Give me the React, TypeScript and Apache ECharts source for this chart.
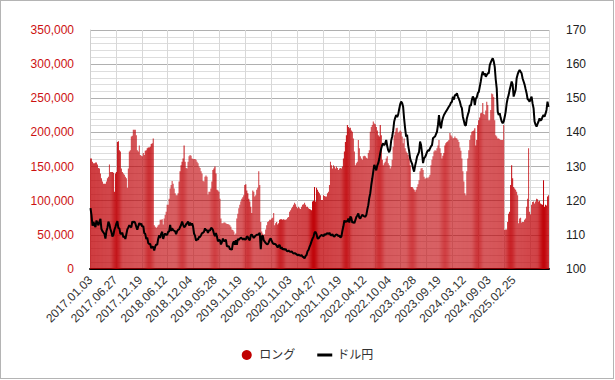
import React, { useEffect, useRef } from "react";
import * as echarts from "echarts";

// ---- Long positions (thousands), one value per week, starting 2017.01.03 ----
const long2017 = [
  162, 162, 157, 155, 155, 156, 156, 153, 148, 147,
  140, 133, 128, 125, 125, 125, 128, 133, 135, 153,
  142, 142, 142, 141, 113, 140, 142, 186, 187, 174,
  172, 147, 142, 140, 138, 135, 133, 119, 147, 172,
  174, 194, 195, 204, 204, 204, 196, 174, 172, 181,
  167, 166,
];
const long2018 = [
  165, 170, 167, 173, 174, 177, 178, 178, 179, 183,
  184, 191, 64, 62, 60, 62, 64, 65, 72, 72,
  73, 65, 74, 79, 84, 94, 94, 103, 118, 123,
  129, 125, 118, 111, 108, 108, 111, 128, 143, 152,
  157, 162, 181, 157, 148, 147, 157, 165, 167, 166,
  162, 161,
];
const long2019 = [
  161, 161, 160, 157, 155, 150, 148, 143, 140, 129,
  128, 135, 137, 135, 109, 113, 113, 118, 128, 145,
  147, 150, 140, 116, 115, 113, 103, 74, 67, 67,
  68, 68, 67, 66, 66, 65, 64, 62, 58, 57,
  55, 50, 52, 74, 81, 89, 94, 99, 103, 105,
  108, 123,
];
const long2020 = [
  124, 115, 111, 103, 99, 91, 82, 115, 113, 106,
  108, 116, 119, 143, 123, 69, 55, 52, 50, 51,
  58, 64, 69, 70, 72, 72, 74, 75, 82, 64,
  67, 69, 65, 67, 72, 73, 73, 72, 73, 72,
  72, 73, 75, 76, 84, 86, 89, 91, 94, 97,
  95, 91,
];
const long2021 = [
  89, 91, 89, 88, 91, 94, 95, 97, 94, 91,
  91, 89, 88, 87, 86, 99, 100, 120, 99, 119,
  116, 113, 111, 108, 101, 101, 108, 107, 106, 106,
  111, 113, 123, 157, 152, 147, 152, 150, 147, 150,
  148, 145, 147, 148, 147, 150, 162, 172, 186, 196,
  211, 208,
];
const long2022 = [
  206, 207, 203, 201, 191, 172, 152, 155, 157, 189,
  177, 165, 162, 160, 165, 166, 165, 163, 162, 170,
  174, 201, 208, 211, 216, 213, 212, 208, 203, 196,
  194, 211, 196, 160, 152, 155, 157, 162, 165, 155,
  152, 147, 150, 160, 179, 196, 201, 206, 207, 199,
  201, 203,
];
const long2023 = [
  201, 194, 184, 191, 177, 172, 170, 167, 162, 152,
  120, 120, 118, 116, 113, 116, 120, 124, 130, 143,
  147, 148, 145, 135, 132, 133, 134, 133, 135, 138,
  152, 160, 165, 172, 174, 173, 177, 181, 189, 177,
  170, 162, 166, 170, 181, 184, 186, 187, 189, 199,
  196, 194,
];
const long2024 = [
  191, 192, 194, 192, 191, 189, 186, 178, 173, 162,
  143, 128, 111, 108, 143, 162, 174, 189, 196, 201,
  202, 203, 206, 181, 189, 211, 218, 222, 228, 229,
  243, 227, 226, 232, 245, 240, 218, 218, 233, 257,
  256, 252, 218, 196, 194, 191, 191, 190, 189, 189,
  189, 211,
];
const long2025 = [
  57, 58, 58, 69, 81, 84, 123, 152, 133, 120,
  118, 116, 113, 108, 67, 74, 75, 68, 69, 69,
  72, 74, 91, 103, 177, 84, 80, 94, 98, 99,
  96, 99, 103, 102, 99, 100, 96, 95, 94, 130,
  91, 94, 93, 106, 108,
];

// ---- USD/JPY ----
const usd2017 = [
  117.8, 115.8, 112.7, 113.8, 112.8, 112.3, 114.2, 113.5, 112.8, 113.9,
  114.7, 111.7, 111.1, 110.7, 110.3, 108.9, 111.1, 112.1, 113.9, 113.1,
  111.7, 110.8, 109.5, 110.0, 111.5, 112.3, 113.3, 114.0, 112.0, 111.9,
  110.3, 110.3, 110.6, 109.3, 109.6, 108.8, 110.2, 111.6, 112.2, 112.8,
  112.4, 112.2, 113.9, 113.6, 113.9, 113.4, 112.4, 111.5, 112.5, 113.5,
  112.9, 113.3,
];
const usd2018 = [
  112.4, 112.6, 110.5, 110.3, 108.8, 109.2, 107.6, 107.3, 107.3, 106.1,
  106.6, 106.4, 105.4, 106.6, 107.2, 107.1, 108.8, 109.9, 109.1, 110.3,
  110.9, 108.8, 109.8, 110.4, 110.0, 110.0, 110.9, 111.0, 112.9, 111.2,
  111.9, 111.4, 111.2, 111.0, 110.2, 111.1, 111.5, 111.6, 112.3, 112.9,
  113.9, 113.0, 112.3, 112.4, 113.1, 113.4, 113.9, 112.7, 113.6, 112.8,
  113.4, 112.5,
];
const usd2019 = [
  110.4, 109.7, 108.3, 108.7, 108.6, 109.4, 109.4, 109.9, 110.5, 110.6,
  110.9, 111.9, 111.3, 111.4, 110.6, 111.4, 111.2, 112.0, 111.9, 111.4,
  110.3, 109.6, 110.5, 109.5, 108.1, 108.5, 108.4, 107.2, 107.9, 108.9,
  108.2, 108.2, 108.6, 106.6, 106.7, 106.6, 105.8, 105.9, 105.6, 107.5,
  108.1, 107.1, 108.4, 107.1, 108.8, 108.5, 108.9, 109.2, 109.0, 108.6,
  109.0, 108.6,
];
const usd2020 = [
  108.7, 109.5, 109.4, 108.7, 108.4, 109.9, 110.1, 109.6, 109.1, 109.5,
  109.8, 110.0, 110.0, 110.2, 110.6, 105.8, 109.5, 109.8, 108.4, 108.0,
  107.6, 107.3, 107.2, 107.8, 108.6, 109.0, 108.2, 107.6, 107.3, 107.4,
  107.2, 106.8, 106.3, 106.9, 107.0, 105.9, 106.4, 105.7, 106.0, 105.6,
  105.9, 105.3, 105.2, 105.4, 105.1, 105.0, 105.2, 104.8, 104.5, 104.7,
  104.5, 104.3,
];
const usd2021 = [
  104.0, 104.2, 104.0, 103.9, 104.1, 103.6, 103.5, 103.1, 103.8, 104.1,
  105.2, 105.6, 106.5, 107.2, 108.1, 108.9, 109.5, 110.6, 110.9, 110.2,
  109.0, 108.9, 109.4, 109.7, 110.0, 109.8, 109.6, 110.2, 110.0, 110.3,
  110.5, 110.2, 110.6, 110.0, 109.8, 110.2, 109.7, 109.5, 109.9, 110.1,
  110.0, 109.6, 109.8, 109.2, 109.5, 111.2, 112.5, 114.2, 113.8, 114.0,
  113.9, 114.8,
];
const usd2022 = [
  113.6, 115.4, 114.9, 113.5, 113.8, 113.4, 114.3, 115.2, 115.7, 116.3,
  115.0, 114.8, 115.4, 115.9, 115.6, 115.4, 115.3, 115.8, 117.4, 118.7,
  120.8, 122.2, 124.6, 126.5, 128.5, 130.5, 129.8, 128.9, 130.3, 131.0,
  132.2, 133.9, 135.3, 136.3, 136.8, 136.2, 136.8, 137.8, 136.0, 134.8,
  134.2, 135.0, 137.6, 138.8, 140.6, 143.2, 144.3, 145.1, 144.5, 145.2,
  146.8, 148.2,
];
const usd2023 = [
  149.0, 148.6, 147.5, 144.0, 141.2, 138.8, 139.3, 136.3, 134.6, 132.4,
  131.5, 130.8, 129.5, 128.5, 130.2, 131.5, 132.9, 133.6, 134.3, 137.3,
  136.3, 133.9, 131.0, 132.4, 132.8, 133.4, 134.3, 134.8, 134.6, 135.3,
  135.9, 136.3, 138.3, 138.6, 138.8, 139.5, 140.2, 142.2, 145.1, 142.2,
  141.2, 143.2, 144.3, 145.1, 145.6, 146.1, 146.6, 147.1, 147.6, 148.0,
  148.7, 149.0,
];
const usd2024 = [
  150.5, 149.6, 151.0, 150.9, 151.5, 150.5, 149.8, 149.0, 147.8, 147.1,
  144.6, 143.4, 142.2, 142.0, 144.1, 145.2, 146.1, 148.0, 147.8, 149.5,
  150.5, 150.0, 148.0, 149.9, 150.3, 151.5, 151.9, 153.4, 155.0, 156.8,
  157.8, 156.8, 157.3, 156.3, 156.8, 157.3, 157.3, 159.7, 160.5, 161.2,
  161.7, 160.8, 159.2, 155.5, 152.9, 146.1, 145.1, 145.6, 144.2, 143.2,
  142.7, 143.2,
];
const usd2025 = [
  144.5, 146.1, 148.5, 150.0, 151.0, 152.5, 153.7, 154.9, 154.0, 150.5,
  151.5, 152.5, 155.9, 157.0, 157.8, 158.3, 157.8, 157.3, 155.8, 154.9,
  154.0, 152.7, 151.5, 149.8, 149.5, 149.0, 149.8, 150.5, 148.5, 147.1,
  143.2, 142.3, 141.7, 142.5, 143.2, 144.1, 143.5, 143.7, 144.6, 145.1,
  144.6, 145.5, 146.6, 149.0, 147.5,
];

const longValues = [
  ...long2017, ...long2018, ...long2019, ...long2020, ...long2021,
  ...long2022, ...long2023, ...long2024, ...long2025,
];
const usdValues = [
  ...usd2017, ...usd2018, ...usd2019, ...usd2020, ...usd2021,
  ...usd2022, ...usd2023, ...usd2024, ...usd2025,
];

// weekly category dates (every Tuesday from 2017.01.03)
const firstDate = Date.UTC(2017, 0, 3);
const pad = (n: number) => (n < 10 ? "0" + n : "" + n);
const dates: string[] = longValues.map((_, i) => {
  const d = new Date(firstDate + i * 7 * 86400000);
  return `${d.getUTCFullYear()}.${pad(d.getUTCMonth() + 1)}.${pad(d.getUTCDate())}`;
});
const LAST_LABEL = "2025.02.25";
const lastLabelIndex = dates.indexOf(LAST_LABEL);

const FONT = "'Liberation Sans', Arial, 'Noto Sans CJK JP', sans-serif";

function stripeColor(i: number) {
  const period = 33;
  const d = (((i - 26) % period) + period) % period;
  const dist = Math.min(d, period - d);
  const t = Math.max(0, 1 - dist / 7);
  const a = 0.77 + 0.23 * t * t * (3 - 2 * t);
  return `rgba(192,0,6,${a.toFixed(3)})`;
}

export default function App() {
  const ref = useRef<HTMLDivElement>(null);
  useEffect(() => {
    if (!ref.current) return;
    const chart = echarts.init(ref.current, null, { renderer: "svg" });
    chart.setOption({
      animation: false,
      textStyle: { fontFamily: FONT },
      grid: { left: 90, right: 66, top: 30, bottom: 111, containLabel: false },
      legend: {
        bottom: 14,
        left: "center",
        itemWidth: 15,
        itemHeight: 10,
        itemGap: 22,
        textStyle: { color: "#333", fontSize: 12, fontFamily: FONT },
        data: [
          { name: "ロング", icon: "circle", itemStyle: { color: "#c00000" } },
          {
            name: "ドル円",
            icon: "path://M0,0M15,10M0,3.5L15,3.5L15,6.5L0,6.5Z",
            itemStyle: { color: "#000" },
          },
        ],
      },
      xAxis: {
        type: "category",
        data: dates,
        boundaryGap: true,
        axisLine: { lineStyle: { color: "#000", width: 2 } },
        axisTick: { show: false },
        axisLabel: {
          interval: (idx: number) => idx % 25 === 0 && idx <= lastLabelIndex,
          rotate: 45,
          margin: 9,
          color: "#333",
          fontSize: 12,
          fontFamily: FONT,
        },
        splitLine: { show: true, interval: 25, lineStyle: { color: "#d8d8d8", width: 1 } },
      },
      yAxis: [
        {
          type: "value",
          min: 0,
          max: 350,
          interval: 50,
          axisLine: { show: true, lineStyle: { color: "#cfcfcf" } },
          axisTick: { show: false },
          axisLabel: {
            margin: 16,
            color: "#cc1111",
            fontSize: 12,
            fontFamily: FONT,
            formatter: (v: number) => (v * 1000).toLocaleString("en-US"),
          },
          splitLine: { show: true, lineStyle: { color: "#b0b0b0", width: 1 } },
          minorTick: { show: false, splitNumber: 5 },
          minorSplitLine: { show: true, lineStyle: { color: "#dddddd", width: 1 } },
        },
        {
          type: "value",
          min: 100,
          max: 170,
          interval: 10,
          position: "right",
          axisLine: { show: false },
          axisTick: { show: false },
          axisLabel: { margin: 17, color: "#222", fontSize: 12, fontFamily: FONT },
          splitLine: { show: false },
        },
      ],
      series: [
        {
          name: "ロング",
          type: "bar",
          yAxisIndex: 0,
          data: longValues,
          barCategoryGap: "0%",
          barGap: "0%",
          itemStyle: {
            color: (p: any) => stripeColor(p.dataIndex),
          },
          z: 2,
        },
        {
          name: "ドル円",
          type: "line",
          yAxisIndex: 1,
          data: usdValues,
          symbol: "none",
          showSymbol: false,
          lineStyle: { color: "#000", width: 2 },
          itemStyle: { color: "#000" },
          z: 3,
        },
      ],
    });
    return () => chart.dispose();
  }, []);
  return (
    <div style={{ position: "absolute", left: 0, top: 0, width: 615, height: 380, background: "#fff" }}>
      <div ref={ref} style={{ width: 615, height: 380 }} />
      <div
        style={{
          position: "absolute",
          left: 0,
          top: 0,
          width: 614,
          height: 379,
          border: "1px solid #b4b4b4",
          boxSizing: "border-box",
          pointerEvents: "none",
        }}
      />
    </div>
  );
}
